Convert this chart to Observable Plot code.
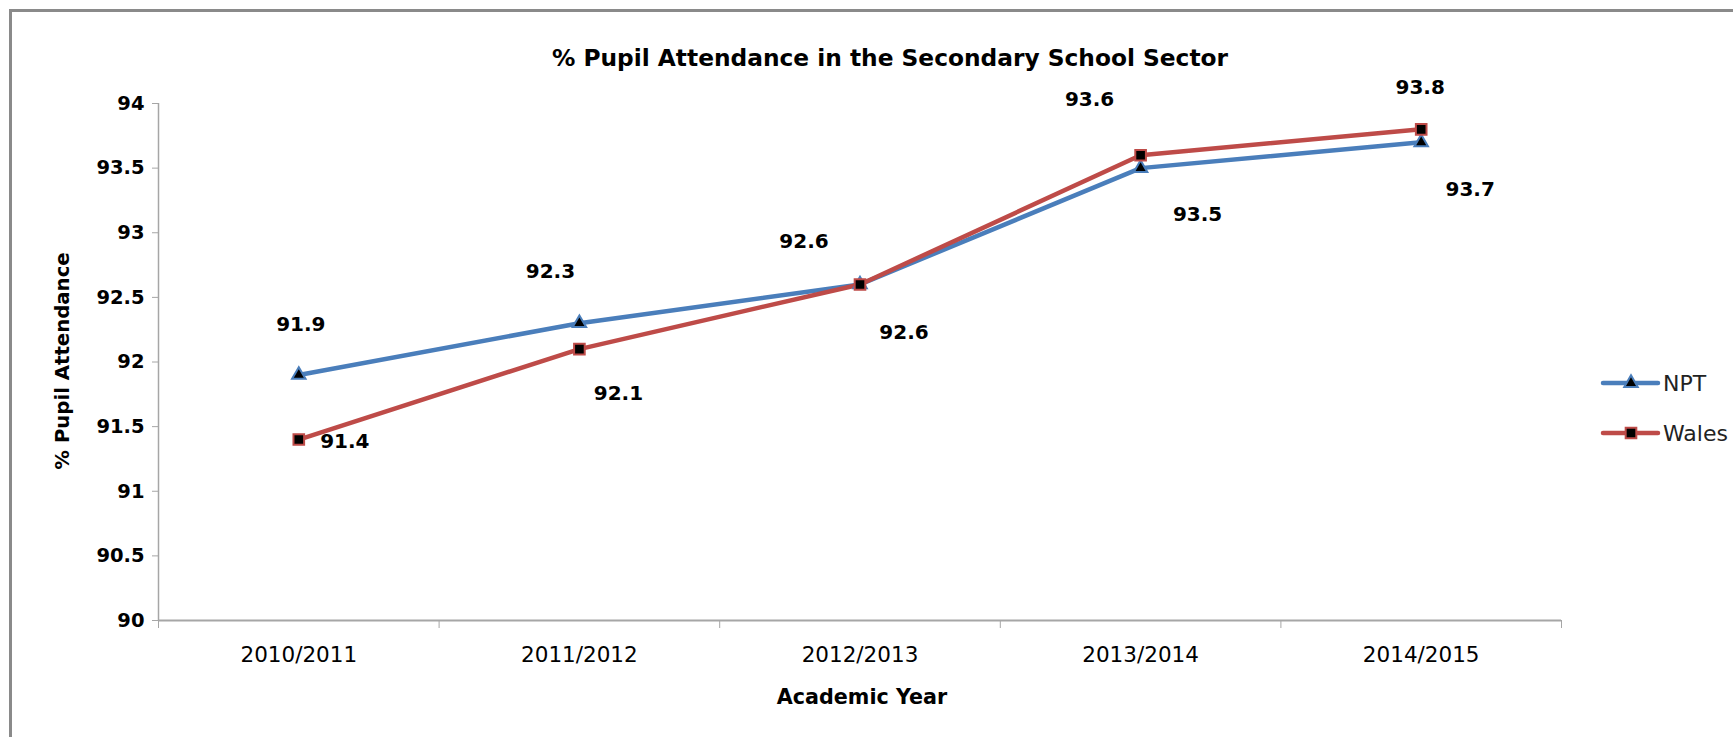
<!DOCTYPE html>
<html><head><meta charset="utf-8">
<script src="https://cdn.jsdelivr.net/npm/d3@7"></script>
<script src="https://cdn.jsdelivr.net/npm/@observablehq/plot@0.6"></script>
<style>
html,body{margin:0;padding:0;background:#fff;width:1733px;height:737px;overflow:hidden;font-family:"DejaVu Sans",sans-serif;}
#wrap{position:relative;width:1733px;height:737px;}
#frame{position:absolute;left:9px;top:9px;width:2000px;height:1000px;border-left:3px solid #8a8a8a;border-top:3px solid #8a8a8a;box-sizing:border-box;}
#chart{position:absolute;left:0;top:0;}
.lbl{position:absolute;font-weight:bold;color:#000;white-space:nowrap;line-height:26px;}
#title{left:0;width:1780px;top:45px;text-align:center;font-size:23.3px;}
#xlab{left:0;width:1724px;top:684px;text-align:center;font-size:20.7px;}
#ylab{left:63px;top:361px;font-size:19.7px;transform:translate(-50%,-50%) rotate(-90deg);}
#legend{position:absolute;left:1595px;top:355px;}
</style></head>
<body><div id="wrap">
<div id="frame"></div>
<div id="chart"></div>
<div class="lbl" id="title">% Pupil Attendance in the Secondary School Sector</div>
<div class="lbl" id="xlab">Academic Year</div>
<div class="lbl" id="ylab">% Pupil Attendance</div>
<svg id="legend" width="138" height="100"></svg>
</div>
<script>
const years = ["2010/2011","2011/2012","2012/2013","2013/2014","2014/2015"];
const npt = [91.9, 92.3, 92.6, 93.5, 93.7];
const wales = [91.4, 92.1, 92.6, 93.6, 93.8];
const yTicks = [90, 90.5, 91, 91.5, 92, 92.5, 93, 93.5, 94];
const seriesNames = ["NPT", "Wales"];
// manual data-label placement (pixel offsets from each point), as in the source chart
const nptLabelOffsets = [[2,-50],[-29,-52],[-56,-43],[57,46],[49,47]];
const walesLabelOffsets = [[46,2],[39,45],[44,48],[-51,-56],[-1,-42]];

const BLUE = "#4A7EBB", RED = "#BE4B48", AXIS = "#a6a6a6";
const nptData = years.map((y,i)=>({pos:i+0.5, year:y, value:npt[i]}));
const walesData = years.map((y,i)=>({pos:i+0.5, year:y, value:wales[i]}));

const labelMarks = (data, offs) => data.map((d,k)=>Plot.text([d], {
  x:"pos", y:"value", text:d=>d.value.toFixed(1), dx:offs[k][0], dy:offs[k][1],
  fontSize:20, fontWeight:"bold", fill:"#000"}));

const chart = Plot.plot({
  width:1733, height:737,
  marginLeft:158, marginRight:172, marginTop:103, marginBottom:117,
  x:{type:"linear", domain:[0,5], label:null},
  y:{type:"linear", domain:[90,94], label:null},
  style:{fontFamily:"DejaVu Sans", background:"transparent", overflow:"visible", color:"#000"},
  marks:[
    Plot.axisY({ticks:yTicks, tickSize:6, tickPadding:8, fontSize:19.5, fontWeight:"bold", stroke:AXIS, fill:"#000", label:null, tickFormat:d=>String(d)}),
    Plot.axisX({ticks:[0,1,2,3,4,5], tickSize:8, tickFormat:()=>"", stroke:AXIS, label:null}),
    Plot.axisX({ticks:years.map((_,i)=>i+0.5), tickSize:0, tickPadding:26, fontSize:21.5, fill:"#000", label:null, tickFormat:d=>years[Math.floor(d)]}),
    Plot.ruleX([0], {stroke:AXIS, strokeWidth:1.5}),
    Plot.ruleY([90], {stroke:AXIS, strokeWidth:2}),
    Plot.line(nptData, {x:"pos", y:"value", stroke:BLUE, strokeWidth:4.5}),
    Plot.line(walesData, {x:"pos", y:"value", stroke:RED, strokeWidth:4.5}),
    Plot.dot(nptData, {x:"pos", y:"value", symbol:"triangle", r:5, fill:"#000", stroke:BLUE, strokeWidth:2}),
    Plot.dot(walesData, {x:"pos", y:"value", symbol:"square", r:6, fill:"#000", stroke:RED, strokeWidth:2}),
    ...labelMarks(nptData, nptLabelOffsets),
    ...labelMarks(walesData, walesLabelOffsets)
  ]
});
document.getElementById("chart").appendChild(chart);

// legend
const lg = d3.select("#legend");
const items = [{name:seriesNames[0], color:BLUE, sym:d3.symbolTriangle, size:Math.PI*5*5},
               {name:seriesNames[1], color:RED, sym:d3.symbolSquare, size:Math.PI*6*6}];
items.forEach((it,k)=>{
  const cy = 28 + k*50;
  lg.append("line").attr("x1",8).attr("x2",63).attr("y1",cy).attr("y2",cy)
    .attr("stroke",it.color).attr("stroke-width",4.5).attr("stroke-linecap","round");
  lg.append("path").attr("d",d3.symbol(it.sym, it.size)()).attr("transform",`translate(36,${cy})`)
    .attr("fill","#000").attr("stroke",it.color).attr("stroke-width",2);
  lg.append("text").attr("x",68).attr("y",cy+8).text(it.name)
    .attr("font-family","DejaVu Sans").attr("font-size",22).attr("fill","#222");
});
</script>
</body></html>
